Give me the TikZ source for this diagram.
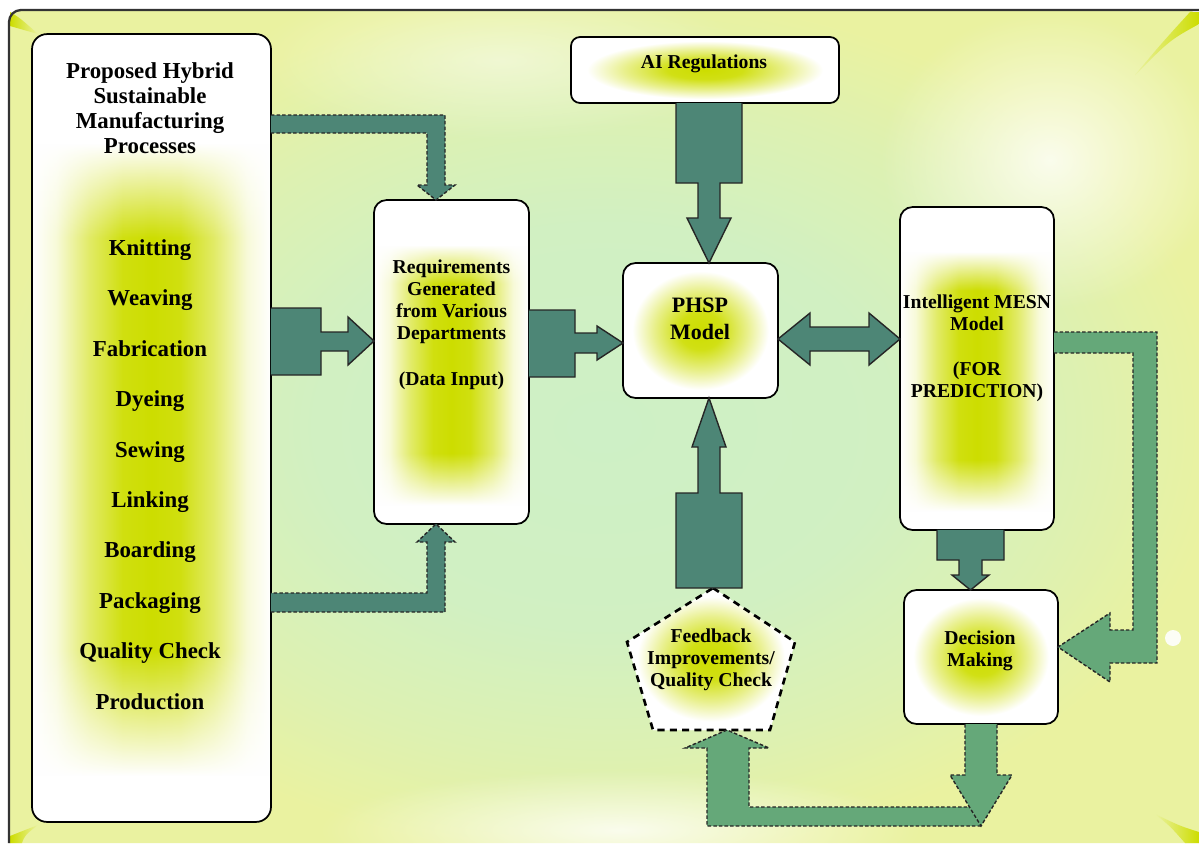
\documentclass[tikz,border=0pt]{standalone}
\usepackage{fontspec}
\setmainfont{Liberation Serif}
\usetikzlibrary{fadings}

\definecolor{arrowdark}{RGB}{77,134,118}
\definecolor{arrowlight}{RGB}{101,168,121}
\definecolor{glowylw}{RGB}{205,221,0}
\definecolor{bggreen}{RGB}{206,240,198}
\definecolor{bgyellow}{RGB}{234,242,160}

% background and glow inside the boxes
\pgfdeclareradialshading{bgshade}{\pgfpoint{0bp}{0bp}}{color(0bp)=(bggreen); color(12bp)=(bggreen!90!bgyellow); color(20bp)=(bggreen!45!bgyellow); color(26bp)=(bgyellow); color(50bp)=(bgyellow)}
\pgfdeclarehorizontalshading{colshade}{100bp}{color(0bp)=(white); color(25bp)=(white); color(30bp)=(glowylw!15!white); color(37bp)=(glowylw!60!white); color(44bp)=(glowylw!94!white); color(50bp)=(glowylw); color(56bp)=(glowylw!94!white); color(63bp)=(glowylw!60!white); color(70bp)=(glowylw!15!white); color(75bp)=(white); color(100bp)=(white)}
\pgfdeclareradialshading{roundshade}{\pgfpoint{0bp}{0bp}}{color(0bp)=(glowylw); color(7bp)=(glowylw!92!white); color(15bp)=(glowylw!45!white); color(22bp)=(white); color(50bp)=(white)}
\begin{tikzfadingfrompicture}[name=colglow]
  \fill[transparent!100] (-50bp,-50bp) rectangle (50bp,50bp);
  \shade[top color=transparent!100, bottom color=transparent!0] (-50bp,12bp) rectangle (50bp,18bp);
  \fill[transparent!0] (-50bp,-14bp) rectangle (50bp,12bp);
  \shade[top color=transparent!0, bottom color=transparent!100] (-50bp,-22bp) rectangle (50bp,-14bp);
\end{tikzfadingfrompicture}
\tikzfading[name=softglow, inner color=transparent!20, outer color=transparent!100]

\tikzset{
  procbox/.style={draw, line width=1pt, rounded corners=0.25cm, fill=white, inner sep=0pt, outer sep=0pt},
  tallglow/.style={procbox, path picture={\shade[draw=none, shading=colshade, path fading=colglow] (path picture bounding box.south west) rectangle (path picture bounding box.north east);}},
  roundglow/.style={procbox, path picture={\shade[draw=none, shading=roundshade] (path picture bounding box.south west) rectangle (path picture bounding box.north east);}},
  txt/.style={font=\fontsize{11.2}{12.5}\selectfont\bfseries, align=center, inner sep=0pt},
  blk/.style={fill=arrowdark, draw=black!85, line width=0.8pt, line join=miter},
  blkdash/.style={blk, dash pattern=on 2pt off 1.2pt},
  lgtdash/.style={fill=arrowlight, draw=black!85, line width=0.8pt, line join=miter, dash pattern=on 2pt off 1.2pt}
}

\begin{document}
\begin{tikzpicture}[x=0.02cm, y=-0.02cm]
   \useasboundingbox (0,0) rectangle (1199,843);
   % background
   \fill[white] (0,0) rectangle (1199,843);
   \shade[shading=bgshade] (9,843) [rounded corners=0.24cm] -- (9,10) -- (1199,10) [sharp corners] -- (1199,843) -- cycle;
   \fill[white, path fading=softglow] (1050,160) ellipse [x radius=170, y radius=150];
   \fill[white, path fading=softglow] (620,830) ellipse [x radius=300, y radius=60];
   \fill[white, path fading=softglow, opacity=0.6] (500,60) ellipse [x radius=250, y radius=80];
   \shade[left color=glowylw, right color=bgyellow] (10,12) .. controls (20,18) .. (38,34) .. controls (24,30) .. (10,26) -- cycle;
   \shade[left color=glowylw, right color=bgyellow] (10,843) -- (10,836) .. controls (20,832) .. (38,825) .. controls (25,835) .. (22,843) -- cycle;
   \shade[left color=bgyellow, right color=glowylw] (1199,12) -- (1199,24) .. controls (1170,40) .. (1135,75) .. controls (1160,45) .. (1190,12) -- cycle;
   \shade[left color=bgyellow, right color=glowylw] (1199,843) -- (1199,832) .. controls (1180,826) .. (1155,814) .. controls (1170,826) .. (1185,843) -- cycle;
   \draw[line width=1.3pt, black!80] (9,843) [rounded corners=0.24cm] -- (9,10) -- (1199,10);

   % boxes
   \node[tallglow, rounded corners=0.3cm, minimum width=4.78cm, minimum height=15.76cm] (procs) at (151.5,428) {};
   \node[txt, font=\fontsize{13}{14.3}\selectfont\bfseries] (procstxt) at (150,386)
      {Proposed Hybrid\\Sustainable\\Manufacturing\\Processes\\[43.5pt]Knitting\\[14.4pt]Weaving\\[14.4pt]Fabrication\\[14.4pt]Dyeing\\[14.4pt]Sewing\\[14.4pt]Linking\\[14.4pt]Boarding\\[14.4pt]Packaging\\[14.4pt]Quality Check\\[14.4pt]Production};
   \node[tallglow, minimum width=3.1cm, minimum height=6.48cm] (req) at (451.5,362) {};
   \node[txt] (reqtxt) at (451.5,325) {Requirements\\Generated\\from Various\\Departments\\[13.5pt](Data Input)};
   \node[roundglow, rounded corners=0.18cm, minimum width=5.36cm, minimum height=1.32cm] (ai) at (705,70) {};
   \node[txt] (aitxt) at (704,64) {AI Regulations};
   \node[roundglow, minimum width=3.1cm, minimum height=2.7cm] (phsp) at (700.5,330.5) {};
   \node[txt, font=\fontsize{12.5}{15.3}\selectfont\bfseries] (phsptxt) at (700,319) {PHSP\\Model};
   \node[tallglow, minimum width=3.08cm, minimum height=6.46cm] (mesn) at (977,368.5) {};
   \node[txt] (mesntxt) at (977,348) {Intelligent MESN\\Model\\[13pt](FOR\\PREDICTION)};
   \node[roundglow, minimum width=3.08cm, minimum height=2.68cm] (dec) at (981,657) {};
   \node[txt] (dectxt) at (980,651) {Decision\\Making};

   % feedback pentagon
   \coordinate (fbtop) at (713,588);
   \coordinate (fbbot) at (727,730);
   \draw[line width=1.5pt, dash pattern=on 4pt off 3pt, fill=white, path picture={\shade[draw=none, shading=roundshade] (path picture bounding box.south west) rectangle (path picture bounding box.north east);}]
      (fbtop) -- (795,642) -- (770,730) -- (653,730) -- (627,642) -- cycle;
   \node[txt] (fb) at (711,660) {Feedback\\Improvements/\\Quality Check};

   % arrows
   \draw[blkdash] (procs.east |- 0,115) -- (445,115) -- (445,185) -- (455,185) -- (req.north -| 436,0) -- (417,185) -- (427,185) -- (427,133) -- (procs.east |- 0,133);
   \draw[blkdash] (procs.east |- 0,612) -- (445,612) -- (445,542) -- (455,542) -- (req.south -| 436,0) -- (417,542) -- (427,542) -- (427,593) -- (procs.east |- 0,593);
   \draw[blk] (procs.east |- 0,308) -- (321,308) -- (321,332) -- (348,332) -- (348,317) -- (req.west |- 0,341) -- (348,365) -- (348,351) -- (321,351) -- (321,375) -- (procs.east |- 0,375);
   \draw[blk] (req.east |- 0,310) -- (575,310) -- (575,333) -- (597,333) -- (597,326) -- (phsp.west |- 0,343) -- (597,360) -- (597,353) -- (575,353) -- (575,377) -- (req.east |- 0,377);
   \draw[blk] (ai.south -| 676,0) -- (676,183) -- (698,183) -- (698,218) -- (687,218) -- (phsp.north -| 709,0) -- (731,218) -- (720,218) -- (720,183) -- (742,183) -- (ai.south -| 742,0);
   \draw[blk] (fbtop -| 676,0) -- (676,493) -- (698,493) -- (698,447) -- (692,447) -- (phsp.south -| 709,0) -- (726,447) -- (720,447) -- (720,493) -- (742,493) -- (fbtop -| 742,0) -- cycle;
   \draw[blk] (phsp.east |- 0,339) -- (810,313) -- (810,327) -- (869,327) -- (869,313) -- (mesn.west |- 0,339) -- (869,365) -- (869,351) -- (810,351) -- (810,365) -- cycle;
   \draw[blk] (mesn.south -| 937,0) -- (937,560) -- (959,560) -- (959,575) -- (952,575) -- (dec.north -| 970.5,0) -- (989,575) -- (982,575) -- (982,560) -- (1004,560) -- (mesn.south -| 1004,0);
   \draw[lgtdash] (mesn.east |- 0,332) -- (1157,332) -- (1157,663) -- (1110,663) -- (1110,682) -- (dec.east |- 0,647) -- (1110,613) -- (1110,630) -- (1133,630) -- (1133,353) -- (mesn.east |- 0,353);
   \draw[lgtdash] (981,826) -- (707,826) -- (707,748) -- (685,748) -- (fbbot) -- (769,748) -- (749,748) -- (749,807) -- (969.5,807);
   \draw[lgtdash] (dec.south -| 965,0) -- (965,775) -- (950,775) -- (981,826) -- (1012,775) -- (997,775) -- (dec.south -| 997,0);
   \fill[white, opacity=0.9] (1173,638) circle [radius=8];
\end{tikzpicture}
\end{document}
